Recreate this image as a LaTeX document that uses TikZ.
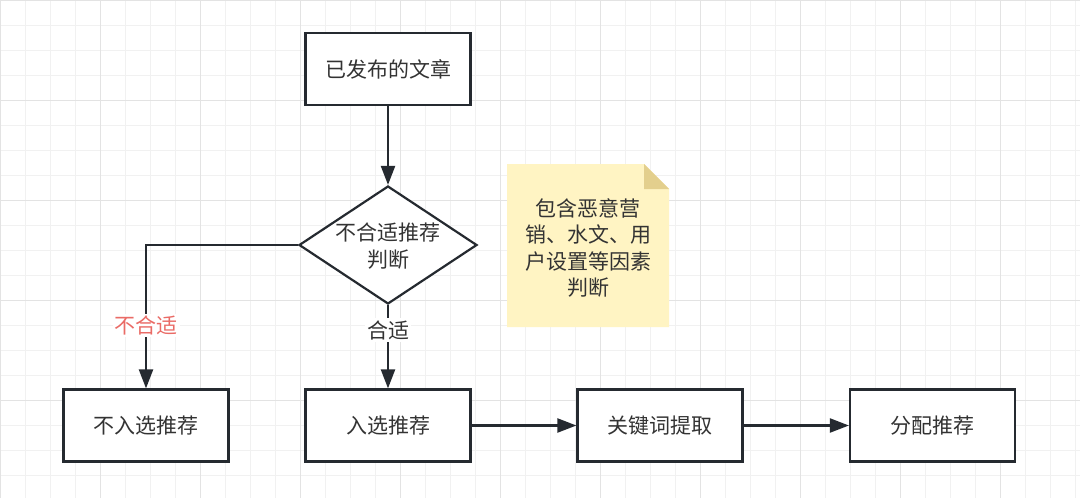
\documentclass[tikz,border=0pt]{standalone}
\usepackage{fontspec}
\setmainfont{Noto Sans CJK SC}
\usetikzlibrary{arrows.meta,shapes.geometric}
\definecolor{linec}{HTML}{252A30}
\definecolor{textc}{HTML}{333333}
\definecolor{redc}{HTML}{EA6B66}
\definecolor{gridminor}{HTML}{F1F1F1}
\definecolor{gridmajor}{HTML}{E3E3E3}
\definecolor{notefill}{HTML}{FFF4C3}
\definecolor{notefold}{HTML}{E3CF8D}
\tikzset{
  boxnode/.style={draw=linec, line width=2.2pt, fill=white, minimum width=165pt, minimum height=72pt, inner sep=0pt, text=textc, font=\fontsize{21}{26.5}\selectfont},
  decnode/.style={draw=linec, line width=2.2pt, fill=white, diamond, minimum width=178pt, minimum height=118pt, inner sep=0pt},
  txt/.style={text=textc, align=center, font=\fontsize{21}{26.5}\selectfont, inner sep=0pt},
  conn/.style={draw=linec, line width=2.2pt, -{Triangle[length=19pt,width=14pt]}},
  edgelbl/.style={fill=white, inner sep=2pt, font=\fontsize{21}{26.5}\selectfont}
}
\begin{document}
\begin{tikzpicture}[x=1pt,y=-1pt]
\useasboundingbox (0,0) rectangle (1080,498);
\fill[white] (0,0) rectangle (1080,498);
\foreach \x in {0,25,...,1075} \draw[gridminor, line width=1pt] (\x+0.5,0) -- (\x+0.5,498);
\foreach \y in {0,25,...,475} \draw[gridminor, line width=1pt] (0,\y+0.5) -- (1080,\y+0.5);
\foreach \x in {0,100,...,1000} \draw[gridmajor, line width=1.3pt] (\x+0.5,0) -- (\x+0.5,498);
\foreach \y in {0,100,...,400} \draw[gridmajor, line width=1.3pt] (0,\y+0.5) -- (1080,\y+0.5);

% note
\fill[notefill] (507,164) -- (644,164) -- (669,189) -- (669,327) -- (507,327) -- cycle;
\fill[notefold] (644,164) -- (669,189) -- (644,189) -- cycle;
\node[txt] (note) at (588,248) {包含恶意营\\销、水文、用\\户设置等因素\\判断};

\node[boxnode] (pub) at (388,69) {已发布的文章};
\node[decnode] (dec) at (388,245) {};
\node[txt] (dect) at (388,246) {不合适推荐\\判断};
\node[boxnode] (rej) at (146,425.5) {不入选推荐};
\node[boxnode] (acc) at (388,425.5) {入选推荐};
\node[boxnode] (kw) at (660,425.5) {关键词提取};
\node[boxnode] (dist) at (932.5,425.5) {分配推荐};

\draw[conn] (pub) -- (dec);
\draw[conn] (dec.south) -- (acc.north) node[edgelbl, text=textc, pos=0.3] (lyes) {合适};
\draw[conn] (dec.west) -| (rej.north) node[edgelbl, text=redc, pos=0.78] (lno) {不合适};
\draw[conn] (acc) -- (kw);
\draw[conn] (kw) -- (dist);
\end{tikzpicture}
\end{document}
